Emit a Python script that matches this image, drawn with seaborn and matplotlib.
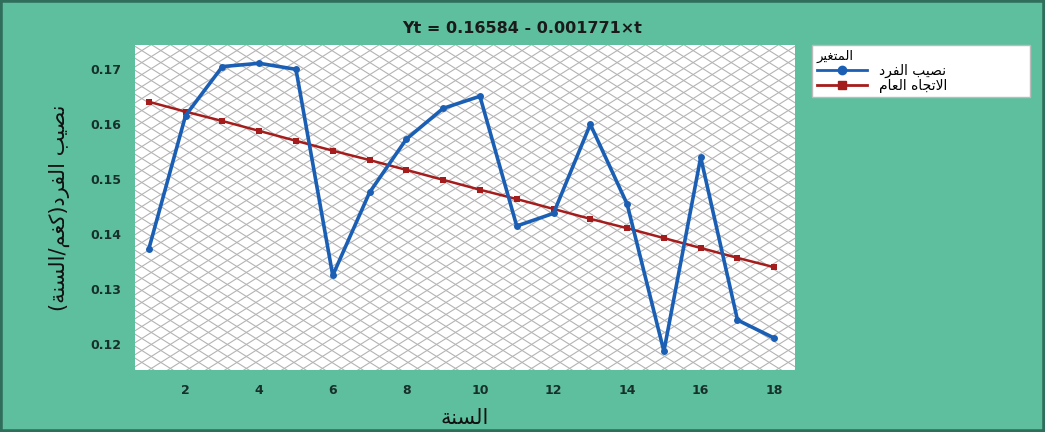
import numpy as np
import pandas as pd
import matplotlib
matplotlib.use("Agg")
import matplotlib.pyplot as plt
from matplotlib.collections import LineCollection
from matplotlib.lines import Line2D
from matplotlib.patches import Rectangle
import seaborn as sns

# =========================
# Data
# =========================
years = list(range(1, 19))
per_capita = [0.1373, 0.1616, 0.1705, 0.1711, 0.1700, 0.1325, 0.1476, 0.1573, 0.1629,
              0.1651, 0.1415, 0.1438, 0.1600, 0.1455, 0.1187, 0.1540, 0.1244, 0.1211]
trend = [0.1641, 0.1623, 0.1606, 0.1588, 0.1570, 0.1552, 0.1535, 0.1517, 0.1499,
         0.1481, 0.1464, 0.1446, 0.1428, 0.1411, 0.1393, 0.1375, 0.1357, 0.1340]
x_ticks = [2, 4, 6, 8, 10, 12, 14, 16, 18]
y_ticks = [0.12, 0.13, 0.14, 0.15, 0.16, 0.17]

title_txt = "Yt = 0.16584 - 0.001771×t"
xlabel_txt = "السنة"
ylabel_txt = "نصيب الفرد(كغم/السنة)"
legend_title = "المتغير"
label_series = "نصيب الفرد"
label_trend = "الاتجاه العام"

# =========================
# Tiny Arabic shaper (matplotlib has no shaping / bidi)
# =========================
FORMS = {
    "ا": (0xFE8D, 0xFE8E, None, None),
    "ب": (0xFE8F, 0xFE90, 0xFE91, 0xFE92),
    "ة": (0xFE93, 0xFE94, None, None),
    "ت": (0xFE95, 0xFE96, 0xFE97, 0xFE98),
    "ج": (0xFE9D, 0xFE9E, 0xFE9F, 0xFEA0),
    "د": (0xFEA9, 0xFEAA, None, None),
    "ر": (0xFEAD, 0xFEAE, None, None),
    "س": (0xFEB1, 0xFEB2, 0xFEB3, 0xFEB4),
    "ص": (0xFEB9, 0xFEBA, 0xFEBB, 0xFEBC),
    "ع": (0xFEC9, 0xFECA, 0xFECB, 0xFECC),
    "غ": (0xFECD, 0xFECE, 0xFECF, 0xFED0),
    "ف": (0xFED1, 0xFED2, 0xFED3, 0xFED4),
    "ك": (0xFED9, 0xFEDA, 0xFEDB, 0xFEDC),
    "ل": (0xFEDD, 0xFEDE, 0xFEDF, 0xFEE0),
    "م": (0xFEE1, 0xFEE2, 0xFEE3, 0xFEE4),
    "ن": (0xFEE5, 0xFEE6, 0xFEE7, 0xFEE8),
    "ه": (0xFEE9, 0xFEEA, 0xFEEB, 0xFEEC),
    "ي": (0xFEF1, 0xFEF2, 0xFEF3, 0xFEF4),
    "لا": (0xFEFB, 0xFEFC, None, None),
}


def shape(text):
    # split into units, merging lam-alef
    units = []
    i = 0
    while i < len(text):
        if text[i] == "ل" and i + 1 < len(text) and text[i + 1] == "ا":
            units.append("لا")
            i += 2
        else:
            units.append(text[i])
            i += 1
    out = []
    for k, u in enumerate(units):
        if u not in FORMS:
            out.append(u)
            continue
        prev = units[k - 1] if k > 0 else None
        nxt = units[k + 1] if k + 1 < len(units) else None
        join_prev = prev in FORMS and FORMS[prev][2] is not None
        join_next = nxt in FORMS and FORMS[u][2] is not None
        iso, fin, ini, med = FORMS[u]
        if join_prev and join_next:
            c = med
        elif join_prev:
            c = fin
        elif join_next:
            c = ini
        else:
            c = iso
        out.append(chr(c))
    vis = "".join(out)[::-1]
    return vis.translate(str.maketrans("()", ")("))


df = pd.DataFrame({"year": years, "value": per_capita, "trend": trend})

# =========================
# Figure
# =========================
bg = "#5ebf9f"
fig = plt.figure(figsize=(10.45, 4.32), dpi=100, facecolor=bg)
ax = fig.add_axes([0.129, 0.1435, 0.632, 0.752])
ax.set_facecolor("white")

# diagonal lattice background
W, H = 660.0, 325.0
dx, dy = 19.0, 12.0
k = dy / dx
segs = []
for c in np.arange(-W * k, H + dy, dy):
    segs.append([(0, c / H), (1, (c + k * W) / H)])
    segs.append([(0, (c + k * W) / H), (1, c / H)])
lc = LineCollection(segs, colors="#b4b4b4", linewidths=0.8, transform=ax.transAxes, zorder=0.5)
ax.add_collection(lc)

sns.lineplot(data=df, x="year", y="trend", ax=ax, color="#a51c1c", linewidth=1.8,
             marker="s", markersize=5, markeredgewidth=0, zorder=3)
sns.lineplot(data=df, x="year", y="value", ax=ax, color="#1b5fb4", linewidth=2.6,
             marker="o", markersize=5, markeredgewidth=0, zorder=4)

ax.set_xlim(0.62, 18.57)
ax.set_ylim(0.1153, 0.1744)
ax.set_xticks(x_ticks)
ax.set_yticks(y_ticks)
ax.set_yticklabels([f"{v:.2f}" for v in y_ticks])
ax.tick_params(length=0, labelsize=9, colors="#17302a", pad=10)
for t in ax.get_xticklabels() + ax.get_yticklabels():
    t.set_fontweight("bold")
for s in ax.spines.values():
    s.set_visible(False)
ax.grid(False)

ax.set_xlabel(shape(xlabel_txt), fontsize=15, color="#111111", labelpad=8)
ax.set_ylabel(shape(ylabel_txt), fontsize=15, color="#111111", labelpad=14)
fig.text(0.5, 0.935, title_txt, ha="center", va="center", fontsize=11.5,
         fontweight="bold", color="#1a1a1a")

handles = [
    Line2D([], [], color="#1b5fb4", linewidth=2, marker="o", markersize=6),
    Line2D([], [], color="#a51c1c", linewidth=2, marker="s", markersize=6),
]
leg = fig.legend(handles, [shape(label_series), shape(label_trend)],
                 title=shape(legend_title), loc="upper left",
                 bbox_to_anchor=(0.777, 0.769, 0.209, 0.127), mode="expand",
                 borderaxespad=0, fancybox=False, framealpha=1, edgecolor="#bbbbbb",
                 fontsize=10, title_fontsize=9.5, handlelength=3.6, labelspacing=0.05,
                 borderpad=0.35, handletextpad=0.9)
leg._legend_box.align = "left"

# outer frame
fig.patches.append(Rectangle((0, 0), 1, 1, transform=fig.transFigure, fill=False,
                             edgecolor="#2f6e5a", linewidth=4))

fig.savefig("out.png", dpi=100, facecolor=bg)
